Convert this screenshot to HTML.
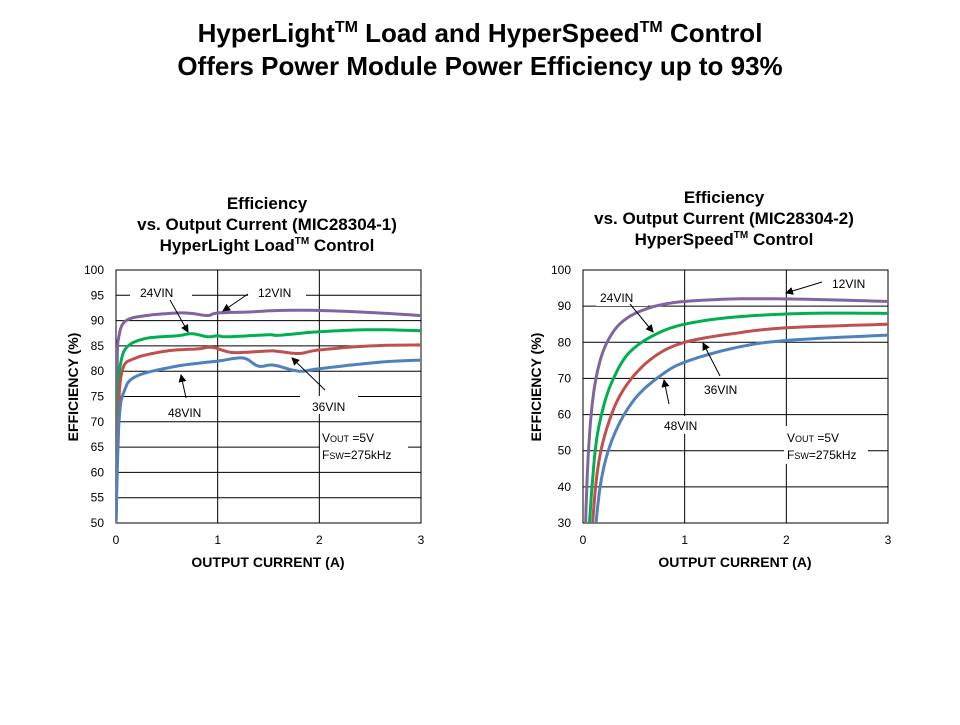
<!DOCTYPE html>
<html><head><meta charset="utf-8"><style>
body{margin:0;background:#fff;font-family:"Liberation Sans",Arial,sans-serif;}
svg text{font-family:"Liberation Sans",Arial,sans-serif;}
</style></head><body>
<svg id="s" width="960" height="720" xmlns="http://www.w3.org/2000/svg">
<defs><marker id="ah" markerWidth="8" markerHeight="8" refX="7" refY="4" orient="auto" markerUnits="userSpaceOnUse"><path d="M0,0 L8,4 L0,8 z" fill="#000"/></marker></defs>
<text x="480" y="42" font-size="26" font-weight="bold" text-anchor="middle">HyperLight<tspan font-size="16" dy="-10">TM</tspan><tspan dy="10"> Load and HyperSpeed</tspan><tspan font-size="16" dy="-10">TM</tspan><tspan dy="10"> Control</tspan></text>
<text x="480" y="75" font-size="26" font-weight="bold" text-anchor="middle">Offers Power Module Power Efficiency up to 93%</text>

<g font-size="17" font-weight="bold" text-anchor="middle">
<text x="267" y="209">Efficiency</text>
<text x="267" y="230">vs. Output Current (MIC28304-1)</text>
<text x="267" y="251">HyperLight Load<tspan font-size="10" dy="-7">TM</tspan><tspan dy="7"> Control</tspan></text>
<text x="724" y="203">Efficiency</text>
<text x="724" y="224">vs. Output Current (MIC28304-2)</text>
<text x="724" y="245">HyperSpeed<tspan font-size="10" dy="-7">TM</tspan><tspan dy="7"> Control</tspan></text>
</g>
<g id="L"></g><g id="R"></g>
<g font-size="14" font-weight="bold">
<text x="268" y="567" text-anchor="middle">OUTPUT CURRENT (A)</text>
<text x="735" y="567" text-anchor="middle">OUTPUT CURRENT (A)</text>
<text transform="translate(78,387) rotate(-90)" text-anchor="middle">EFFICIENCY (%)</text>
<text transform="translate(541,387) rotate(-90)" text-anchor="middle">EFFICIENCY (%)</text>
</g>
<g font-size="12">
<text x="322" y="442">V<tspan font-size="9">OUT</tspan> =5V</text>
<text x="322" y="459">F<tspan font-size="9">SW</tspan>=275kHz</text>
<text x="787" y="442">V<tspan font-size="9">OUT</tspan> =5V</text>
<text x="787" y="459">F<tspan font-size="9">SW</tspan>=275kHz</text>
</g>
</svg>
<script>
function smooth(pts){
 const out=[];
 for(let i=0;i<pts.length-1;i++){
  const p0=pts[Math.max(i-1,0)],p1=pts[i],p2=pts[i+1],p3=pts[Math.min(i+2,pts.length-1)];
  for(let t=0;t<1;t+=0.1){
   const t2=t*t,t3=t2*t;
   const f=(a,b,c,d)=>0.5*((2*b)+(-a+c)*t+(2*a-5*b+4*c-d)*t2+(-a+3*b-3*c+d)*t3);
   out.push([f(p0[0],p1[0],p2[0],p3[0]),f(p0[1],p1[1],p2[1],p3[1])]);
  }
 }
 out.push(pts[pts.length-1]);return out;
}
function chart(g,x0,x1,y0,y1,ymin,ymax,step,series,labels,arrows){
 let h="";
 const X=v=>x0+(x1-x0)*v/3, Y=v=>y1-(y1-y0)*(v-ymin)/(ymax-ymin);
 for(let v=ymin;v<=ymax;v+=step){h+=`<line x1="${x0}" x2="${x1}" y1="${Y(v)}" y2="${Y(v)}" stroke="#000" stroke-width="1"/>`;
  h+=`<text x="${x0-12}" y="${Y(v)+4}" font-size="12" text-anchor="end">${v}</text>`;}
 for(let i=0;i<=3;i++){h+=`<line x1="${X(i)}" x2="${X(i)}" y1="${y0}" y2="${y1}" stroke="#000"/>`;
  h+=`<text x="${X(i)}" y="${y1+21}" font-size="12" text-anchor="middle">${i}</text>`;}
 h+=`<rect x="${x0}" y="${y0}" width="${x1-x0}" height="${y1-y0}" fill="none" stroke="#000"/>`;
 labels.forEach(l=>{h+=`<rect x="${l[0]}" y="${l[1]}" width="${l[2]}" height="${l[3]}" fill="#fff"/>`;});
 h+=`<clipPath id="c${g}"><rect x="${x0}" y="${y0}" width="${x1-x0}" height="${y1-y0}"/></clipPath>`;
 series.forEach(s=>{const p=smooth(s[1].map(q=>[X(q[0]),Y(q[1])]));h+=`<polyline clip-path="url(#c${g})" fill="none" stroke="${s[0]}" stroke-width="3" stroke-linejoin="round" points="${p.map(q=>q[0].toFixed(1)+','+q[1].toFixed(1)).join(' ')}"/>`;});
 arrows.forEach(a=>{h+=`<line x1="${a[0]}" y1="${a[1]}" x2="${a[2]}" y2="${a[3]}" stroke="#000" stroke-width="1" marker-end="url(#ah)"/>`;});
 labels.forEach(l=>{if(l[4])h+=`<text x="${l[5]}" y="${l[6]}" font-size="12">${l[4]}</text>`;});
 document.getElementById(g).innerHTML=h;
}
const P="#8064a2",G="#00b050",Rd="#c0504d",B="#4f81bd";
chart("L",116,421,270,523,50,100,5,[
 [P,[[0,50],[0.01,80],[0.03,87],[0.1,90],[0.3,91],[0.6,91.5],[0.75,91.4],[0.9,91],[1,91.5],[1.3,91.7],[1.6,92],[2,92],[2.5,91.6],[3,91]]],
 [G,[[0,50],[0.02,75],[0.05,82],[0.12,85],[0.3,86.5],[0.6,87],[0.75,87.4],[0.9,86.8],[1,87],[1.1,86.8],[1.5,87.2],[1.6,87.1],[2,87.8],[2.5,88.2],[3,88]]],
 [Rd,[[0,50],[0.02,70],[0.06,80],[0.18,82.5],[0.5,84],[0.8,84.4],[0.95,84.7],[1.15,83.7],[1.5,84],[1.6,83.9],[1.8,83.5],[2,84.2],[2.5,85],[3,85.2]]],
 [B,[[0,50],[0.03,70],[0.08,76],[0.2,79],[0.6,81],[1,82],[1.25,82.6],[1.4,81],[1.55,81.2],[1.8,80],[2,80.5],[2.6,81.8],[3,82.2]]]
],[[130,283,62,18,"24VIN",140,297],[248,283,58,18,"12VIN",258,297],[156,402,56,18,"48VIN",168,417],[300,396,58,18,"36VIN",312,411],[320,426,88,38,"",0,0]],
[[170,300,188,332],[248,294,223,311],[325,390,292,358],[186,398,181,375]]);
chart("R",583,888,270,523,30,100,10,[
 [P,[[0.02,25],[0.05,48],[0.1,65],[0.18,76],[0.3,83],[0.45,87],[0.65,89.5],[0.85,90.8],[1.1,91.5],[1.5,92],[2,92],[2.5,91.7],[3,91.3]]],
 [G,[[0.05,25],[0.12,50],[0.2,62],[0.3,70],[0.45,77],[0.7,82],[1,85],[1.5,87],[2.2,88],[3,88]]],
 [Rd,[[0.08,25],[0.15,46],[0.28,60],[0.45,69],[0.7,76],[1,80],[1.5,82.5],[2,84],[3,85]]],
 [B,[[0.11,25],[0.18,42],[0.3,54],[0.5,64],[0.75,70.5],[1,74.5],[1.5,78.5],[2,80.5],[3,82]]]
],[[822,274,60,18,"12VIN",832,288],[596,288,52,18,"24VIN",600,302],[694,380,54,18,"36VIN",704,394],[656,416,52,18,"48VIN",664,430],[784,426,84,38,"",0,0]],
[[822,282,786,293],[630,304,653,332],[720,376,703,343],[669,404,664,380]]);
</script>
</body></html>
